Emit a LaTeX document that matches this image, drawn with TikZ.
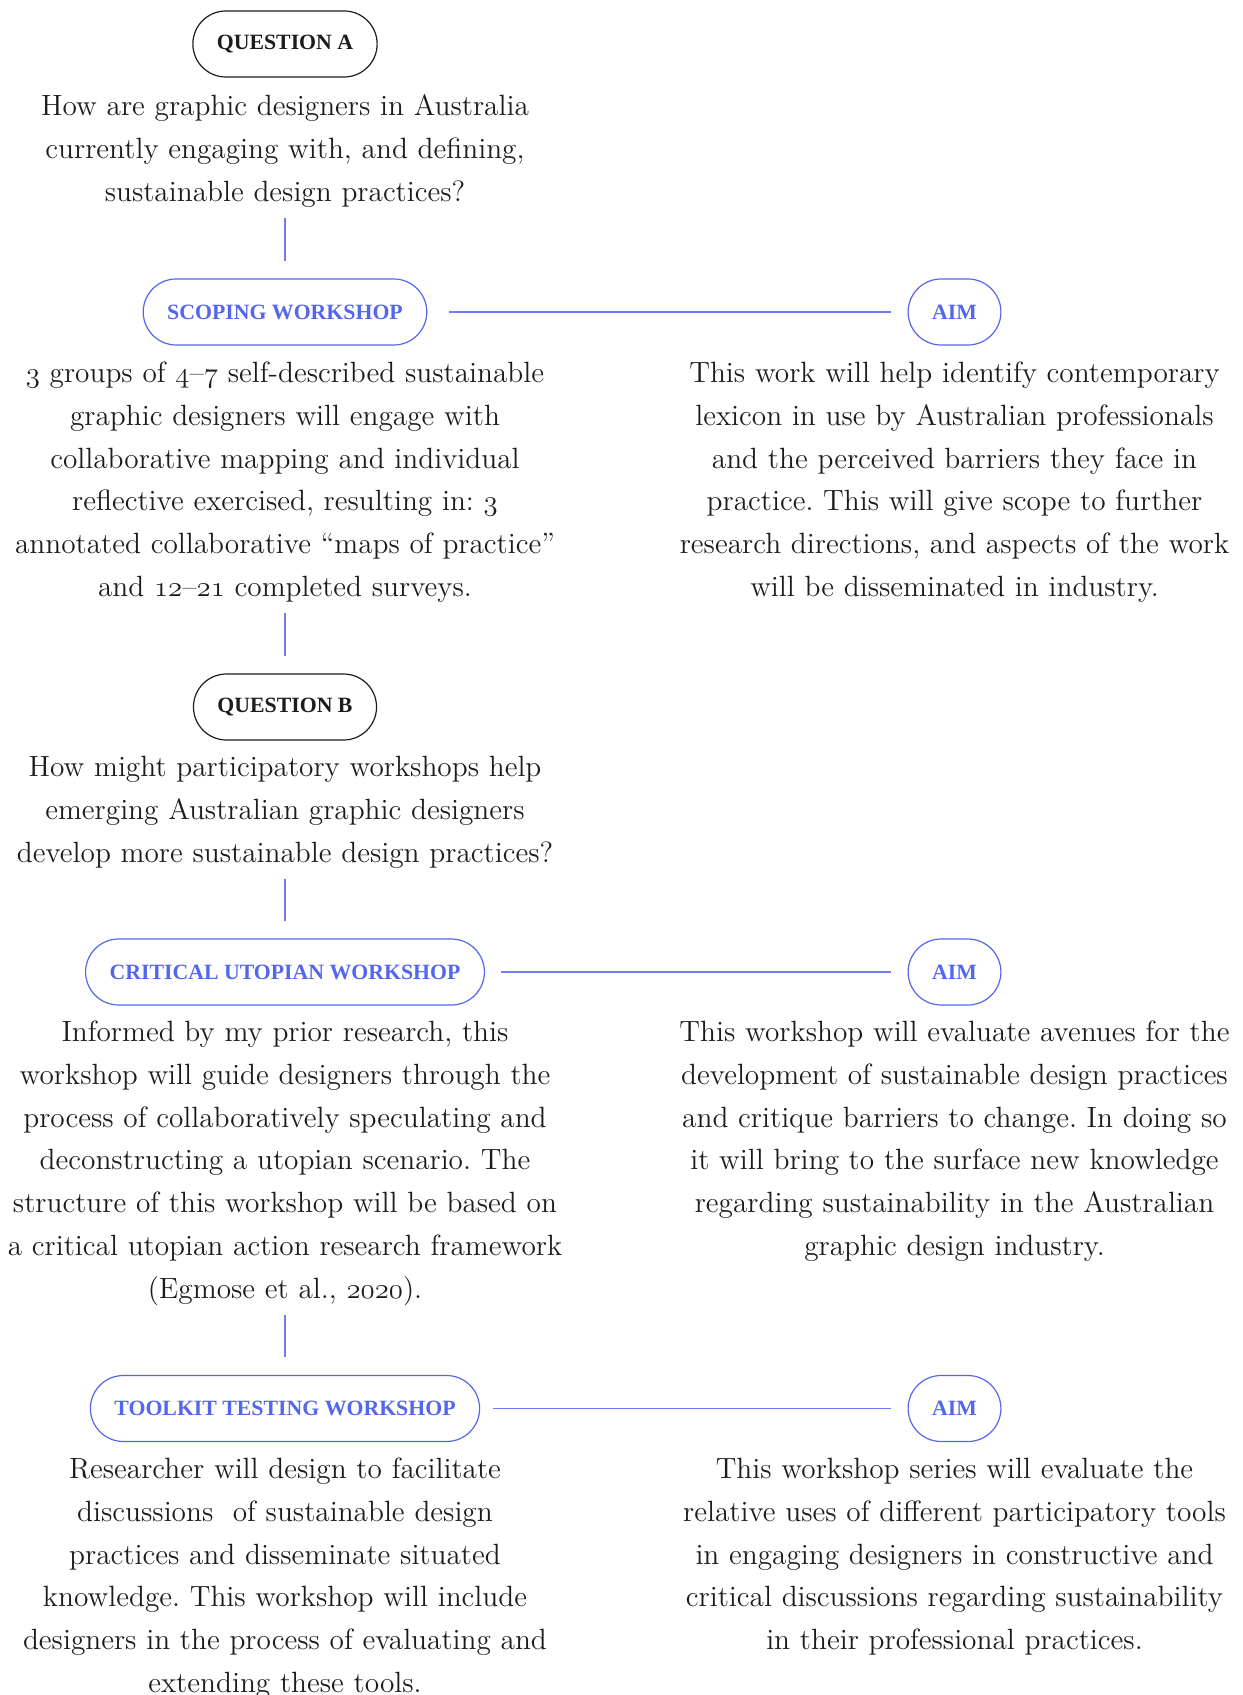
\documentclass[tikz,border=0pt]{standalone}
\usepackage{fontspec}
\newfontfamily\lblfont{Liberation Serif}
\definecolor{accent}{RGB}{84,102,238}
\definecolor{ink}{RGB}{28,28,28}
\newcommand\osn[1]{{\usefont{OML}{cmm}{m}{it}#1}}
\frenchspacing
\tikzset{
  body/.style={font=\fontsize{14.65}{21.4}\selectfont\frenchspacing, text=ink, align=center,
    text width=310pt, inner sep=0pt, anchor=north},
  pill/.style={draw, rounded corners=16.5pt, minimum height=33pt, inner xsep=12pt,
    inner ysep=0pt, line width=0.6pt, font=\lblfont\bfseries\fontsize{10.9}{13}\selectfont},
  blackpill/.style={pill, draw=ink, text=ink},
  bluepill/.style={pill, draw=accent, text=accent},
  conn/.style={draw=accent!85, line width=0.6pt},
  vconn/.style={conn, shorten <=1.6pt, shorten >=8.75pt}
}
\begin{document}
\begin{tikzpicture}[x=0.5pt,y=-0.5pt]
\useasboundingbox (0,0) rectangle (1242,1695);

% Question A
\node[blackpill] (qa) at (285,44) {QUESTION A};
\node[body] (qat) at (285,85.2) {\strut How are graphic designers in Australia\\
currently engaging with, and defining,\\
sustainable design practices?\strut};

% Scoping
\node[bluepill] (sw) at (285,312) {SCOPING WORKSHOP};
\node[bluepill] (aim1) at (954.5,312) {AIM};
\node[body] (swt) at (285,352.2) {\strut\osn{3} groups of \osn{4}--\osn{7} self-described sustainable\\
graphic designers will engage with\\
collaborative mapping and individual\\
reflective exercised, resulting in: \osn{3}\\
annotated collaborative “maps of practice”\\
and \osn{12}--\osn{21} completed surveys.\strut};
\node[body] (aim1t) at (954.5,352.2) {\strut This work will help identify contemporary\\
lexicon in use by Australian professionals\\
and the perceived barriers they face in\\
practice. This will give scope to further\\
research directions, and aspects of the work\\
will be disseminated in industry.\strut};

% Question B
\node[blackpill] (qb) at (285,707) {QUESTION B};
\node[body] (qbt) at (285,746.2) {\strut How might participatory workshops help\\
emerging Australian graphic designers\\
develop more sustainable design practices?\strut};

% Critical utopian
\node[bluepill] (cu) at (285,972) {CRITICAL UTOPIAN WORKSHOP};
\node[bluepill] (aim2) at (954.5,972) {AIM};
\node[body] (cut) at (285,1011.2) {\strut Informed by my prior research, this\\
workshop will guide designers through the\\
process of collaboratively speculating and\\
deconstructing a utopian scenario. The\\
structure of this workshop will be based on\\
a critical utopian action research framework\\
(Egmose et al., \osn{2020}).\strut};
\node[body] (aim2t) at (954.5,1011.2) {\strut This workshop will evaluate avenues for the\\
development of sustainable design practices\\
and critique barriers to change. In doing so\\
it will bring to the surface new knowledge\\
regarding sustainability in the Australian\\
graphic design industry.\strut};

% Toolkit
\node[bluepill] (tt) at (285,1408.5) {TOOLKIT TESTING WORKSHOP};
\node[bluepill] (aim3) at (954.5,1408.5) {AIM};
\node[body] (ttt) at (285,1448.2) {\strut Researcher will design to facilitate\\
discussions\ \ of sustainable design\\
practices and disseminate situated\\
knowledge. This workshop will include\\
designers in the process of evaluating and\\
extending these tools.\strut};
\node[body] (aim3t) at (954.5,1448.2) {\strut This workshop series will evaluate the\\
relative uses of different participatory tools\\
in engaging designers in constructive and\\
critical discussions regarding sustainability\\
in their professional practices.\strut};

% connectors
\draw[vconn] (qat.south) -- (sw.north);
\draw[vconn] (swt.south) -- (qb.north);
\draw[vconn] (qbt.south) -- (cu.north);
\draw[vconn] (cut.south) -- (tt.north);
\draw[conn, shorten <=11pt, shorten >=8.5pt] (sw.east) -- (aim1.west);
\draw[conn, shorten <=8pt, shorten >=8.5pt] (cu.east) -- (aim2.west);
\draw[conn, shorten <=6.5pt, shorten >=8.5pt] (tt.east) -- (aim3.west);
\end{tikzpicture}
\end{document}
